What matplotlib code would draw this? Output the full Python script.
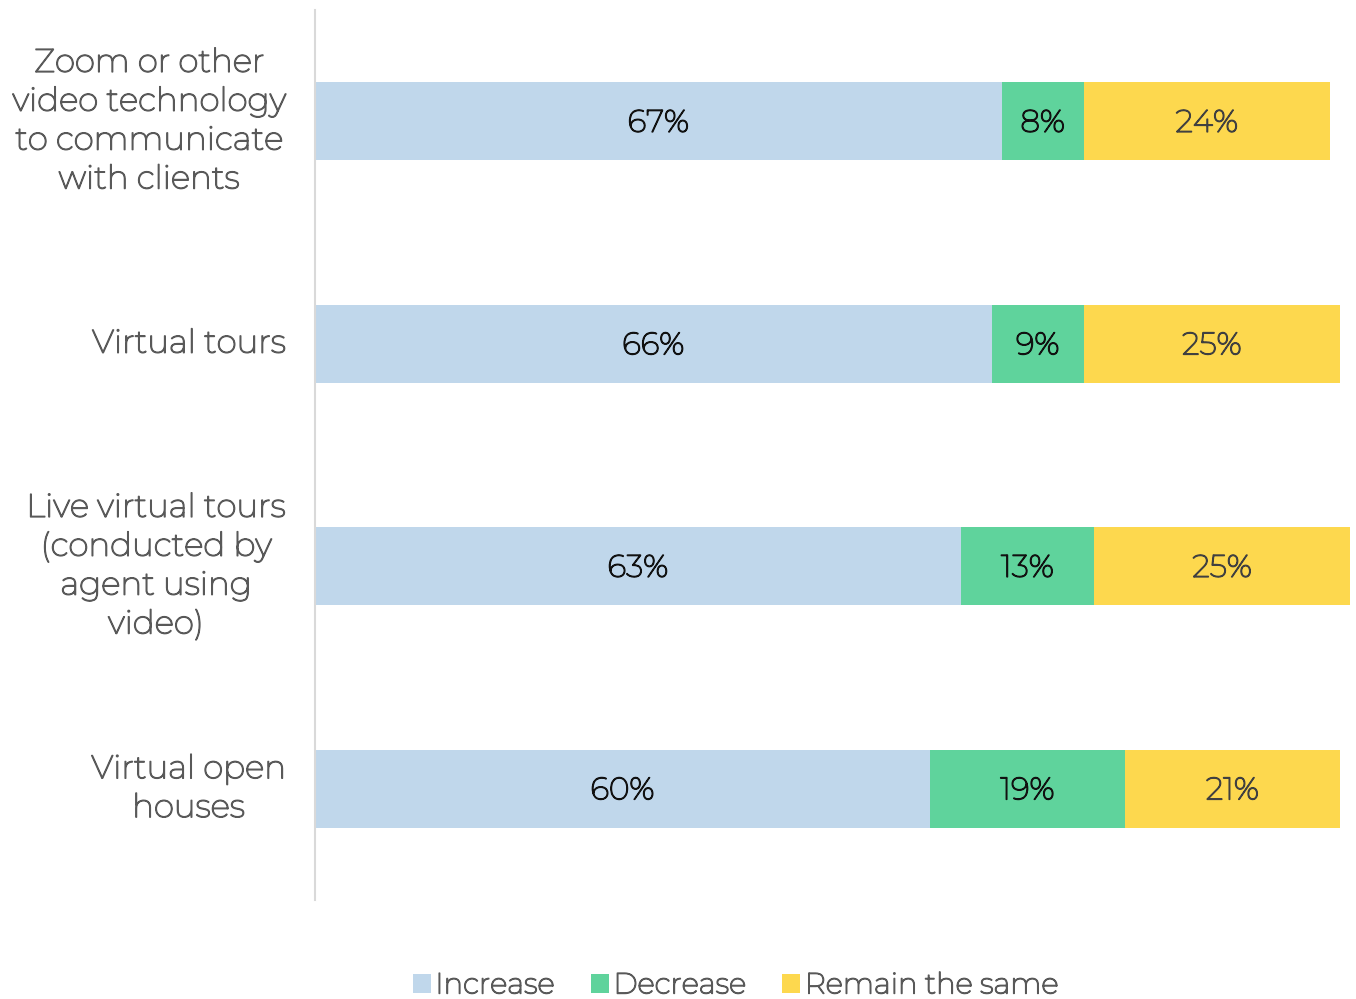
import matplotlib.pyplot as plt
import matplotlib.patheffects as pe
import numpy as np

categories = ['Zoom or other\nvideo technology\nto communicate\nwith clients',
              'Virtual tours',
              'Live virtual tours\n(conducted by\nagent using\nvideo)',
              'Virtual open\nhouses']
increase = [67, 66, 63, 60]
decrease = [8, 9, 13, 19]
remain = [24, 25, 25, 21]
series_names = ['Increase', 'Decrease', 'Remain the same']
colors = ['#C0D7EB', '#5FD39C', '#FDD84E']
text_colors = ['#111111', '#111111', '#404040']

# only the variable (thin) Montserrat is available, so thicken it a bit
plt.rcParams['font.family'] = ['Montserrat', 'DejaVu Sans']


def bold_fx(color, lw=1.0):
    return [pe.withStroke(linewidth=lw, foreground=color)]


W, H = 1356, 999
fig = plt.figure(figsize=(W / 100, H / 100), dpi=100)
ax = fig.add_axes([315 / W, 1 - 900 / H, (W - 315) / W, 890 / H])

y = np.arange(len(categories))
left = np.zeros(len(categories))
for vals, name, c, tc in zip([increase, decrease, remain], series_names, colors, text_colors):
    vals = np.array(vals)
    bars = ax.barh(y, vals, left=left, height=0.35, color=c, label=name)
    for b, v in zip(bars, vals):
        ax.text(b.get_x() + b.get_width() / 2, b.get_y() + b.get_height() / 2 + 0.012,
                '%d%%' % v, ha='center', va='center', fontsize=22.5, color=tc,
                path_effects=bold_fx(tc))
    left += vals

ax.set_ylim(3.5, -0.5)
ax.set_xlim(0, (W - 315) / 10.25)
ax.set_yticks(y)
ax.set_yticklabels(categories, fontsize=23.5, color='#595959', linespacing=1.37)
for lbl in ax.get_yticklabels():
    lbl.set_multialignment('center')
    lbl.set_verticalalignment('center')
    lbl.set_path_effects(bold_fx('#595959'))
ax.tick_params(axis='y', length=0, pad=21)
ax.set_xticks([])
for s in ['top', 'right', 'bottom']:
    ax.spines[s].set_visible(False)
ax.spines['left'].set_color('#D9D9D9')
ax.spines['left'].set_linewidth(1.5)

leg = fig.legend(loc='center', bbox_to_anchor=(735.5 / W, 1 - 986 / H), ncol=3, frameon=False,
                 fontsize=21, labelcolor='#595959', handlelength=0.62, handleheight=0.62,
                 handletextpad=0.15, columnspacing=1.25, borderaxespad=0)
for t in leg.get_texts():
    t.set_path_effects(bold_fx('#595959'))

fig.savefig('out.png', dpi=100)
